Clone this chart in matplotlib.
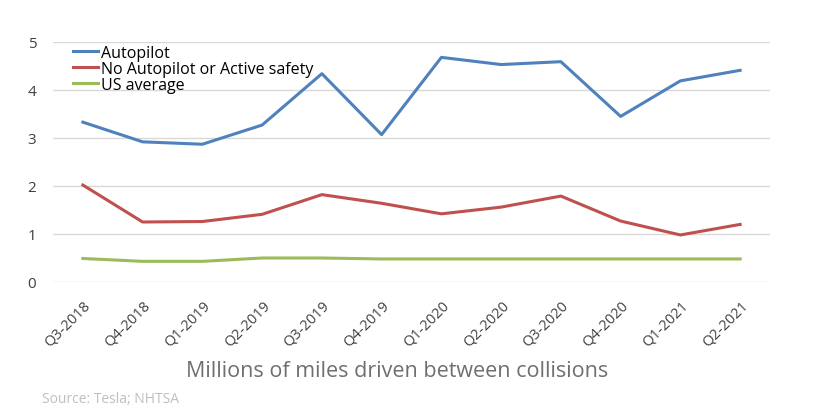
import matplotlib
matplotlib.use("Agg")
from matplotlib import pyplot as plt

quarters = ['Q3-2018', 'Q4-2018', 'Q1-2019', 'Q2-2019', 'Q3-2019', 'Q4-2019',
            'Q1-2020', 'Q2-2020', 'Q3-2020', 'Q4-2020', 'Q1-2021', 'Q2-2021']
autopilot = [3.33, 2.92, 2.87, 3.27, 4.34, 3.07, 4.68, 4.53, 4.59, 3.45, 4.19, 4.41]
no_autopilot = [2.02, 1.25, 1.26, 1.41, 1.82, 1.64, 1.42, 1.56, 1.79, 1.27, 0.98, 1.20]
us_average = [0.49, 0.43, 0.43, 0.50, 0.50, 0.48, 0.48, 0.48, 0.48, 0.48, 0.48, 0.48]

plt.rcParams['font.family'] = ['Open Sans', 'DejaVu Sans']

fig = plt.figure(figsize=(8.2, 4.14), dpi=100)
ax = fig.add_axes([53 / 820, 131 / 414, 717 / 820, 240 / 414])

x = range(len(quarters))
ax.plot(x, autopilot, c='#4F81BD', lw=2.2, label='Autopilot')
ax.plot(x, no_autopilot, c='#C0504D', lw=2.2, label='No Autopilot or Active safety')
ax.plot(x, us_average, c='#9BBB59', lw=2.2, label='US average')

ax.set_xlim(-0.5, len(quarters) - 0.5)
ax.set_ylim(0, 5)
ax.set_yticks(range(6))
ax.yaxis.grid(True, color='#d9d9d9', lw=1)
ax.set_axisbelow(True)
for s in ax.spines.values():
    s.set_visible(False)
ax.tick_params(length=0, colors='#404040')
ax.tick_params(axis='y', labelsize=11, pad=12)
ax.set_xticks(list(x))
ax.set_xticklabels(quarters, rotation=45, ha='right', rotation_mode='anchor', fontsize=10.5)
ax.tick_params(axis='x', pad=11)

ax.legend(loc='upper left', bbox_to_anchor=(0.012, 1.035), frameon=False, fontsize=11.5,
          handlelength=1.6, handletextpad=0.15, labelspacing=0.0, borderaxespad=0.3)

fig.text(397 / 820, 1 - 372 / 414, 'Millions of miles driven between collisions',
         ha='center', va='center', fontsize=15.5, color='#6f6f6f')
fig.text(42 / 820, 1 - 400 / 414, 'Source: Tesla; NHTSA',
         ha='left', va='center', fontsize=10, color='#bfbfbf')

fig.savefig('out.png', dpi=100)
